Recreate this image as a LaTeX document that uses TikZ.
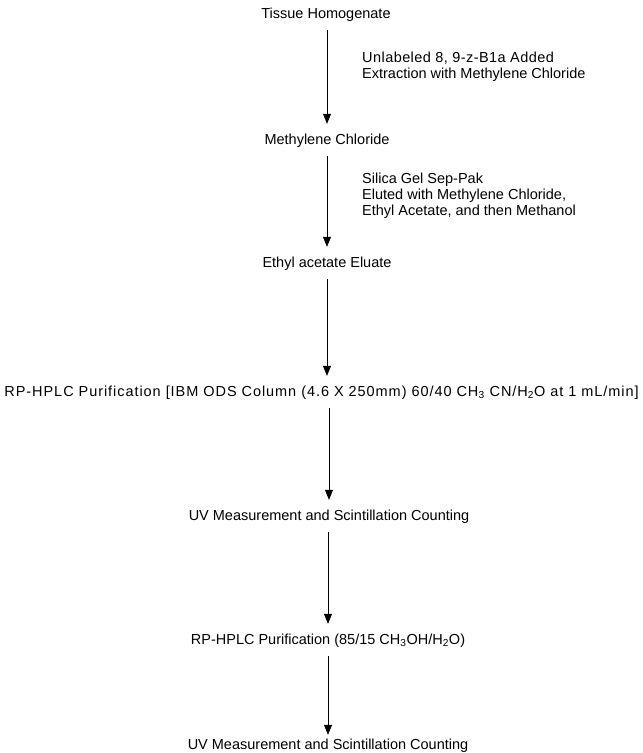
\documentclass[tikz,border=0pt]{standalone}
\usepackage{fontspec}
\setmainfont{Liberation Sans}
\usetikzlibrary{arrows.meta}
\begin{document}
\begin{tikzpicture}[x=1pt,y=-1pt,
  every node/.style={font=\fontsize{14.5}{16}\selectfont},
  stage/.style={inner sep=0pt,text height=11pt,text depth=3pt},
  note/.style={anchor=west,align=left,inner sep=0pt},
  arr/.style={line width=0.6pt,-{Triangle[width=8pt,length=10pt]}}]
\useasboundingbox (0,0) rectangle (643,753);
\node[stage] (a) at (326,14) {Tissue Homogenate};
\node[stage] (b) at (327,140) {Methylene Chloride};
\node[stage] (c) at (327,263) {Ethyl acetate Eluate};
\node[stage] (d) at (321.5,392) {\addfontfeature{LetterSpace=6.5}RP-HPLC Purification [IBM ODS Column (4.6 X 250mm) 60/40 CH\textsubscript{3} CN/H\textsubscript{2}O at 1 mL/min]};
\node[stage] (e) at (329,516) {UV Measurement and Scintillation Counting};
\node[stage] (f) at (328,640) {RP-HPLC Purification (85/15 CH\textsubscript{3}OH/H\textsubscript{2}O)};
\node[stage] (g) at (328,745) {UV Measurement and Scintillation Counting};
\node[note] (n1) at (362,67) {\addfontfeature{LetterSpace=3}Unlabeled 8, 9-z-B1a Added\\Extraction with Methylene Chloride};
\node[note] (n2) at (362,196) {Silica Gel Sep-Pak\\Eluted with Methylene Chloride,\\Ethyl Acetate, and then Methanol};
\coordinate (x1) at (327,0);
\coordinate (x2) at (329,0);
\coordinate (x3) at (328,0);
\draw[arr,shorten <=9pt,shorten >=9pt] (a.south -| x1) -- (b.north -| x1);
\draw[arr,shorten <=9pt,shorten >=9pt] (b.south -| x1) -- (c.north -| x1);
\draw[arr,shorten <=9pt,shorten >=9pt] (c.south -| x1) -- (d.north -| x1);
\draw[arr,shorten <=9pt,shorten >=9pt] (d.south -| x2) -- (e.north -| x2);
\draw[arr,shorten <=9pt,shorten >=9pt] (e.south -| x3) -- (f.north -| x3);
\draw[arr,shorten <=9pt,shorten >=3pt] (f.south -| x3) -- (g.north -| x3);
\end{tikzpicture}
\end{document}
